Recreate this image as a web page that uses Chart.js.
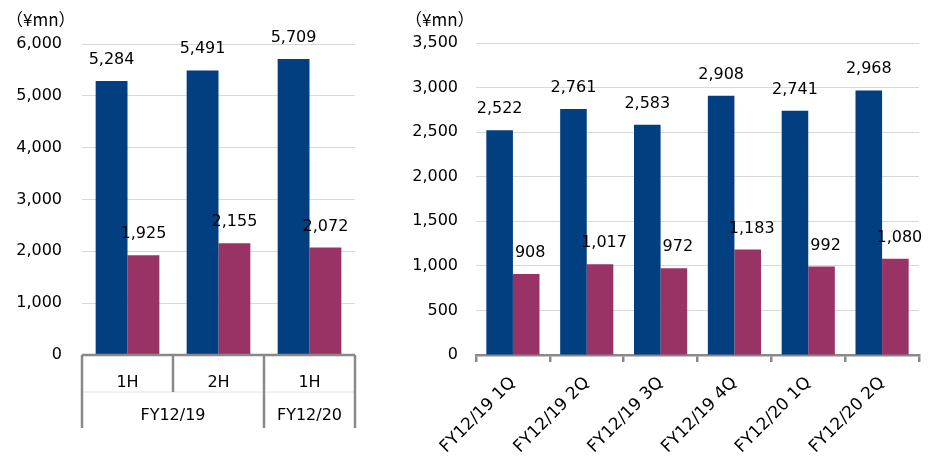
<!DOCTYPE html>
<html>
<head>
<meta charset="utf-8">
<script src="https://cdn.jsdelivr.net/npm/chart.js@4"></script>
<style>
    html, body { margin: 0; padding: 0; background: #ffffff; }
    #wrap { position: relative; width: 928px; height: 457px; }
    .box { position: absolute; top: 0; height: 457px; }
</style>
</head>
<body>
<div id="wrap">
    <div class="box" style="left:0; width:370px;"><canvas id="halfChart"></canvas></div>
    <div class="box" style="left:370px; width:558px;"><canvas id="quarterChart"></canvas></div>
</div>
<script>
// Half-year panel
const halfLabels = ['1H', '2H', '1H'];
const halfGroups = ['FY12/19', 'FY12/20'];
const halfGroupSpans = [2, 1];
const halfSeriesA = [5284, 5491, 5709];
const halfSeriesB = [1925, 2155, 2072];
const halfMax = 6000;
const halfStep = 1000;

// Quarter panel
const quarterLabels = ['FY12/19 1Q', 'FY12/19 2Q', 'FY12/19 3Q', 'FY12/19 4Q', 'FY12/20 1Q', 'FY12/20 2Q'];
const quarterSeriesA = [2522, 2761, 2583, 2908, 2741, 2968];
const quarterSeriesB = [908, 1017, 972, 1183, 992, 1080];
const quarterMax = 3500;
const quarterStep = 500;

const unitLabel = '（¥mn）';

const FONT = '"DejaVu Sans", sans-serif';
const CJK_FONT = '"Noto Sans CJK JP", sans-serif';
const cBlue = '#013f80';
const cPurple = '#993366';
const gridColor = '#d9d9d9';
const axisColor = '#898989';
const textColor = '#000000';

const fmt = (v) => v.toLocaleString('en-US');

// Etykiety wartości nad słupkami (bez pluginu datalabels)
const valueLabels = {
    id: 'valueLabels',
    afterDatasetsDraw(chart, args, opts) {
        const ctx = chart.ctx;
        ctx.save();
        ctx.fillStyle = textColor;
        ctx.font = `16px ${FONT}`;
        ctx.textAlign = 'center';
        ctx.textBaseline = 'alphabetic';
        chart.data.datasets.forEach((ds, di) => {
            const meta = chart.getDatasetMeta(di);
            const dx = (opts.offsets && opts.offsets[di]) || 0;
            meta.data.forEach((bar, i) => {
                ctx.fillText(fmt(ds.data[i]), bar.x + dx, bar.y - 17);
            });
        });
        ctx.restore();
    }
};

// "(¥mn)" nad osią Y
const unitText = {
    id: 'unitText',
    afterDraw(chart, args, opts) {
        const ctx = chart.ctx;
        ctx.save();
        ctx.fillStyle = textColor;
        ctx.font = `17px ${CJK_FONT}`;
        ctx.textAlign = 'left';
        ctx.textBaseline = 'middle';
        ctx.fillText(unitLabel, opts.x, opts.y);
        ctx.restore();
    }
};

// Dwupoziomowa oś kategorii (1H / 2H + FY) w lewym wykresie
const groupAxis = {
    id: 'groupAxis',
    afterDraw(chart) {
        const ctx = chart.ctx;
        const x = chart.scales.x;
        const n = halfLabels.length;
        const half = (x.getPixelForValue(1) - x.getPixelForValue(0)) / 2;
        const edges = [];
        for (let i = 0; i < n; i++) edges.push(x.getPixelForValue(i) - half);
        edges.push(x.getPixelForValue(n - 1) + half);

        const top = chart.chartArea.bottom;
        const mid = top + 37;
        const bottom = top + 73;

        ctx.save();
        // cienka linia między poziomami
        ctx.strokeStyle = '#e4e4e4';
        ctx.lineWidth = 1;
        ctx.beginPath();
        ctx.moveTo(edges[0], mid);
        ctx.lineTo(edges[n], mid);
        ctx.stroke();

        ctx.strokeStyle = axisColor;
        ctx.lineWidth = 2.5;
        ctx.beginPath();
        ctx.moveTo(edges[0], top);
        ctx.lineTo(edges[n], top);
        ctx.stroke();

        const groupEdges = [0];
        halfGroupSpans.forEach(s => groupEdges.push(groupEdges[groupEdges.length - 1] + s));
        edges.forEach((ex, i) => {
            const isGroup = groupEdges.includes(i);
            ctx.beginPath();
            ctx.moveTo(ex, top);
            ctx.lineTo(ex, isGroup ? bottom : mid);
            ctx.stroke();
        });

        ctx.fillStyle = textColor;
        ctx.font = `16px ${FONT}`;
        ctx.textAlign = 'center';
        ctx.textBaseline = 'middle';
        halfGroups.forEach((g, gi) => {
            const cx = (edges[groupEdges[gi]] + edges[groupEdges[gi + 1]]) / 2;
            ctx.fillText(g, cx, top + 61);
        });
        ctx.restore();
    }
};

function barDatasets(a, b, catPct) {
    return [
        { label: 'A', data: a, backgroundColor: cBlue, borderWidth: 0, categoryPercentage: catPct, barPercentage: 1 },
        { label: 'B', data: b, backgroundColor: cPurple, borderWidth: 0, categoryPercentage: catPct, barPercentage: 1 }
    ];
}

function yScale(max, step, width, pad) {
    return {
        min: 0,
        max: max,
        afterFit: (s) => { s.width = width; },
        ticks: {
            stepSize: step,
            padding: pad,
            color: textColor,
            font: { family: FONT, size: 16 },
            callback: (v) => fmt(v)
        },
        grid: { color: gridColor, lineWidth: 1, drawTicks: false },
        border: { display: false }
    };
}

new Chart(document.getElementById('halfChart').getContext('2d'), {
    type: 'bar',
    data: { labels: halfLabels, datasets: barDatasets(halfSeriesA, halfSeriesB, 0.7) },
    options: {
        responsive: true,
        maintainAspectRatio: false,
        animation: false,
        layout: { padding: { top: 44, left: 0, right: 15, bottom: 0 } },
        scales: {
            x: {
                afterFit: (s) => { s.height = 102; },
                ticks: { color: textColor, font: { family: FONT, size: 16 }, padding: 10 },
                grid: { display: false },
                border: { display: false }
            },
            y: yScale(halfMax, halfStep, 82, 20)
        },
        plugins: {
            legend: { display: false },
            tooltip: { enabled: false },
            unitText: { x: 6, y: 20 }
        }
    },
    plugins: [valueLabels, unitText, groupAxis]
});

new Chart(document.getElementById('quarterChart').getContext('2d'), {
    type: 'bar',
    data: { labels: quarterLabels, datasets: barDatasets(quarterSeriesA, quarterSeriesB, 0.72) },
    options: {
        responsive: true,
        maintainAspectRatio: false,
        animation: false,
        layout: { padding: { top: 43, left: 0, right: 9, bottom: 0 } },
        scales: {
            x: {
                afterFit: (s) => { s.height = 102; },
                ticks: {
                    color: textColor,
                    font: { family: FONT, size: 17 },
                    minRotation: 45,
                    maxRotation: 45,
                    padding: 11
                },
                grid: {
                    drawOnChartArea: false,
                    drawTicks: true,
                    tickLength: 7,
                    color: axisColor,
                    lineWidth: 2.5
                },
                border: { display: true, color: axisColor, width: 2.5 }
            },
            y: yScale(quarterMax, quarterStep, 106, 18)
        },
        plugins: {
            legend: { display: false },
            tooltip: { enabled: false },
            unitText: { x: 35, y: 20 },
            valueLabels: { offsets: [0, 4] }
        }
    },
    plugins: [valueLabels, unitText]
});
</script>
</body>
</html>
